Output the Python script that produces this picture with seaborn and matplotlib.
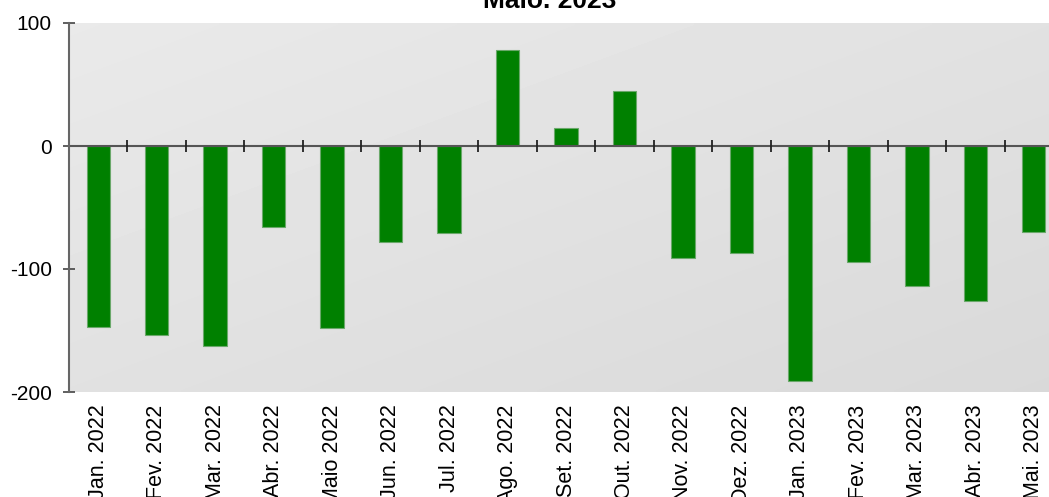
import numpy as np
import pandas as pd
import matplotlib
matplotlib.use("Agg")
import matplotlib.pyplot as plt
import seaborn as sns

categories = ["Jan. 2022", "Fev. 2022", "Mar. 2022", "Abr. 2022", "Maio 2022",
              "Jun. 2022", "Jul. 2022", "Ago. 2022", "Set. 2022", "Out. 2022",
              "Nov. 2022", "Dez. 2022", "Jan. 2023", "Fev. 2023", "Mar. 2023",
              "Abr. 2023", "Mai. 2023"]
values = [-147, -154, -163, -66, -148, -78, -71, 78, 15, 45,
          -91, -87, -191, -94, -114, -126, -70]
yticks = [100, 0, -100, -200]
title = "Maio. 2023"

sns.set_style("white")
plt.rcParams["font.family"] = ["Liberation Sans", "DejaVu Sans"]
plt.rcParams["text.color"] = "black"
plt.rcParams["xtick.color"] = "black"
plt.rcParams["ytick.color"] = "black"

W, H = 1049, 497
fig = plt.figure(figsize=(W / 100, H / 100), dpi=100)
left, right, top, bottom = 69, 1063, 23, 392
ax = fig.add_axes([left / W, (H - bottom) / H, (right - left) / W, (bottom - top) / H])

df = pd.DataFrame({"cat": categories, "val": values})
sns.barplot(data=df, x="cat", y="val", color="#008000", width=0.4,
            saturation=1, edgecolor="#6aa86a", linewidth=0.8, ax=ax, zorder=3)

# gradient background
gx = np.linspace(0, 1, 200)
gy = np.linspace(0, 1, 100)
GX, GY = np.meshgrid(gx, gy)
grad = 0.915 - 0.065 * (0.5 * GX + 0.5 * GY)
ax.imshow(grad, extent=[0, 1, 0, 1], transform=ax.transAxes, cmap="gray",
          vmin=0, vmax=1, aspect="auto", zorder=0, interpolation="bilinear")

ax.set_xlim(-0.5, len(categories) - 0.5)
ax.set_ylim(-200, 100)

ax.axhline(0, color="#555555", lw=1.5, zorder=4)
bounds = np.arange(len(categories) - 1) + 0.5
ax.plot(bounds, np.zeros_like(bounds), ls="none", marker="|", ms=9,
        mew=1.3, color="#222222", zorder=5)

for s in ["top", "right", "bottom"]:
    ax.spines[s].set_visible(False)
ax.spines["left"].set_color("#666666")
ax.spines["left"].set_linewidth(1.5)
ax.spines["left"].set_zorder(6)

ax.set_yticks(yticks)
ax.set_yticklabels([str(v) for v in yticks])
ax.minorticks_off()
ax.tick_params(axis="y", direction="inout", length=9, width=1.2, color="#444444",
               labelsize=15, pad=8, left=True, labelcolor="black")
ax.tick_params(axis="x", which="both", length=0, bottom=False, top=False,
               labelsize=15.5, pad=9, rotation=90, labelcolor="black")
ax.set_xlabel("")
ax.set_ylabel("")
ax.grid(False)

fig.text(550 / W, 1 - 8 / H, title, ha="center", va="baseline",
         fontsize=19, fontweight="bold", color="black")

fig.savefig("out.png", dpi=100)
